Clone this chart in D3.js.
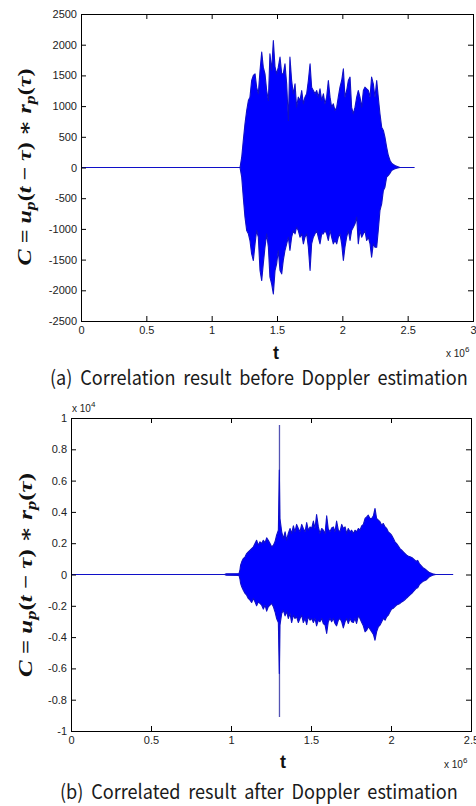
<!DOCTYPE html>
<html><head><meta charset="utf-8">
<script src="https://cdn.jsdelivr.net/npm/d3@7"></script>
<style>body{margin:0;background:#fff} svg{display:block}</style>
</head><body><svg id="c" width="476" height="806"></svg>
<script>
// ---------------- data ----------------
const xTicksA = [0, 0.5, 1, 1.5, 2, 2.5, 3];
const yTicksA = [-2500, -2000, -1500, -1000, -500, 0, 500, 1000, 1500, 2000, 2500];
const xTicksB = [0, 0.5, 1, 1.5, 2, 2.5];
const yTicksB = [-1, -0.8, -0.6, -0.4, -0.2, 0, 0.2, 0.4, 0.6, 0.8, 1];
const xExponentA = "6", xExponentB = "6", yExponentB = "4";
const xLabel = "t";
const captions = ["(a) Correlation result before Doppler estimation",
                  "(b) Correlated result after Doppler estimation"];

// signal envelopes: [t (x10^6), max, min]
const signalA = [
[0,0,0],[1.217,0,0],[1.230,168,-158],[1.242,440,-483],[1.255,711,-809],[1.268,928,-1026],
[1.281,1091,-1081],[1.293,1146,-1189],[1.306,1417,-1406],[1.319,1499,-1515],[1.332,1526,-1243],
[1.344,1309,-1026],[1.357,1200,-1135],[1.370,1580,-1678],[1.383,1879,-1841],[1.395,1634,-1569],
[1.408,1526,-1298],[1.421,1254,-1081],[1.434,1091,-1298],[1.446,1852,-1787],[1.459,1580,-1895],
[1.472,2069,-2058],[1.485,1634,-1678],[1.497,1526,-1569],[1.510,1634,-1352],[1.523,1797,-1678],
[1.536,1526,-1732],[1.548,1526,-1515],[1.561,1689,-1352],[1.574,1363,-1243],[1.587,766,-1135],
[1.599,1797,-1352],[1.612,1417,-1135],[1.625,1200,-1026],[1.638,1363,-1081],[1.650,983,-972],
[1.663,1146,-1026],[1.676,1091,-1135],[1.689,1254,-1081],[1.702,1037,-1243],[1.714,1146,-1135],
[1.727,1200,-1081],[1.740,1417,-1298],[1.753,1689,-1678],[1.765,1309,-1243],[1.778,1254,-1135],
[1.791,1200,-1081],[1.804,1254,-1026],[1.816,1146,-1135],[1.829,1282,-1243],[1.842,1091,-1081],
[1.855,1200,-1081],[1.867,1037,-1026],[1.880,1146,-1081],[1.893,1417,-1189],[1.906,1146,-1026],
[1.918,983,-1135],[1.931,1037,-1243],[1.944,928,-1189],[1.957,983,-1243],[1.969,1146,-1135],
[1.982,1309,-1081],[1.995,1417,-1243],[2.008,1607,-1515],[2.020,1146,-1298],[2.033,1254,-1135],
[2.046,1417,-1026],[2.059,1472,-1189],[2.071,983,-1026],[2.084,874,-972],[2.097,983,-917],
[2.110,1146,-809],[2.122,1254,-1243],[2.135,1146,-1026],[2.148,983,-1135],[2.161,1254,-1081],
[2.173,1309,-1026],[2.186,1282,-1189],[2.199,1254,-1135],[2.212,1146,-1243],[2.224,1472,-1461],
[2.237,1363,-1243],[2.250,1146,-1298],[2.263,1417,-1298],[2.275,1146,-1026],[2.288,874,-700],
[2.301,657,-592],[2.314,603,-375],[2.326,494,-320],[2.339,331,-158],[2.352,195,-130],
[2.365,114,-92],[2.377,71,-49],[2.390,49,-33],[2.403,33,-22],[2.416,22,-11],[2.441,0,0],[2.550,0,0]
];

const signalB = [
[0,0,0],[0.960,0,0],[0.970,0.004,-0.004],[1.050,0.006,-0.006],[1.056,0.03,-0.03],
[1.060,0.060,-0.057],[1.067,0.081,-0.079],[1.077,0.102,-0.100],[1.088,0.113,-0.121],
[1.098,0.134,-0.132],[1.108,0.145,-0.153],[1.119,0.155,-0.164],[1.129,0.166,-0.179],
[1.140,0.177,-0.153],[1.150,0.198,-0.175],[1.160,0.219,-0.200],[1.171,0.187,-0.175],
[1.181,0.209,-0.185],[1.192,0.198,-0.196],[1.202,0.219,-0.221],[1.213,0.204,-0.196],
[1.223,0.234,-0.234],[1.233,0.219,-0.206],[1.244,0.198,-0.196],[1.254,0.177,-0.185],
[1.265,0.187,-0.206],[1.275,0.209,-0.238],[1.285,0.251,-0.281],[1.296,0.283,-0.307],
[1.302,0.667,-0.633],[1.306,0.358,-0.324],[1.317,0.273,-0.249],[1.327,0.230,-0.228],
[1.338,0.273,-0.264],[1.348,0.219,-0.238],[1.358,0.262,-0.281],[1.369,0.294,-0.249],
[1.379,0.262,-0.307],[1.390,0.311,-0.260],[1.400,0.273,-0.281],[1.410,0.320,-0.270],
[1.421,0.294,-0.307],[1.431,0.273,-0.281],[1.442,0.320,-0.260],[1.452,0.294,-0.307],
[1.463,0.273,-0.281],[1.473,0.332,-0.320],[1.483,0.283,-0.270],[1.494,0.304,-0.292],
[1.504,0.294,-0.281],[1.515,0.341,-0.307],[1.525,0.294,-0.281],[1.535,0.383,-0.328],
[1.546,0.304,-0.292],[1.556,0.262,-0.302],[1.567,0.294,-0.281],[1.577,0.283,-0.313],
[1.588,0.262,-0.324],[1.598,0.375,-0.377],[1.608,0.290,-0.302],[1.619,0.273,-0.281],
[1.629,0.298,-0.302],[1.640,0.304,-0.281],[1.650,0.273,-0.313],[1.660,0.341,-0.328],
[1.671,0.283,-0.292],[1.681,0.273,-0.281],[1.692,0.320,-0.302],[1.702,0.294,-0.341],
[1.713,0.304,-0.302],[1.723,0.262,-0.281],[1.733,0.294,-0.313],[1.744,0.273,-0.281],
[1.754,0.283,-0.302],[1.765,0.262,-0.307],[1.775,0.283,-0.281],[1.785,0.273,-0.313],
[1.796,0.294,-0.264],[1.806,0.283,-0.281],[1.817,0.311,-0.307],[1.827,0.320,-0.328],
[1.838,0.358,-0.366],[1.848,0.368,-0.356],[1.858,0.379,-0.334],[1.869,0.358,-0.349],
[1.879,0.358,-0.366],[1.890,0.375,-0.383],[1.900,0.422,-0.420],[1.910,0.358,-0.366],
[1.921,0.347,-0.334],[1.931,0.337,-0.324],[1.942,0.315,-0.302],[1.952,0.326,-0.281],
[1.963,0.304,-0.292],[1.973,0.294,-0.270],[1.983,0.273,-0.260],[1.994,0.262,-0.238],
[2.004,0.251,-0.221],[2.015,0.230,-0.215],[2.025,0.209,-0.205],[2.035,0.198,-0.195],
[2.046,0.181,-0.190],[2.056,0.166,-0.185],[2.067,0.155,-0.175],[2.077,0.145,-0.170],
[2.088,0.134,-0.160],[2.098,0.124,-0.150],[2.109,0.117,-0.140],[2.119,0.113,-0.130],
[2.135,0.105,-0.115],[2.156,0.085,-0.090],[2.167,0.090,-0.085],[2.177,0.070,-0.065],
[2.198,0.045,-0.045],[2.219,0.030,-0.035],[2.240,0.012,-0.015],[2.260,0.004,-0.005],
[2.280,0,0],[2.386,0,0]
];
// isolated spikes: [t, min, max]
const spikesB = [[1.303, -0.91, 0.955]];

// ---------------- drawing ----------------
const svg = d3.select("#c");

function panel(o) {
  const x = d3.scaleLinear().domain(o.xDomain).range([o.left, o.right]);
  const y = d3.scaleLinear().domain(o.yDomain).range([o.bottom, o.top]);
  const g = svg.append("g");
  const clipId = "clip" + o.id;
  svg.append("clipPath").attr("id", clipId).append("rect")
    .attr("x", o.left).attr("y", o.top).attr("width", o.right - o.left).attr("height", o.bottom - o.top);

  const plot = g.append("g").attr("clip-path", `url(#${clipId})`);
  plot.selectAll("line.spk").data(o.spikes || []).enter().append("line")
    .attr("x1", d => x(d[0])).attr("x2", d => x(d[0]))
    .attr("y1", d => y(d[1])).attr("y2", d => y(d[2]))
    .attr("stroke", "#5454b4").attr("stroke-width", 1.3);
  const area = d3.area().x(d => x(d[0])).y0(d => y(d[2])).y1(d => y(d[1]));
  plot.append("path").datum(o.signal).attr("d", area)
    .attr("fill", "#0000ff").attr("stroke", "#1010c8").attr("stroke-width", 1.1)
    .attr("stroke-linejoin", "round");

  function style(sel, labels) {
    sel.select(".domain").remove();
    sel.selectAll(".tick line").attr("stroke", "#000");
    sel.selectAll("text").attr("font-family", "Liberation Sans, Arial, sans-serif")
      .attr("font-size", 11).attr("fill", "#222");
    if (!labels) sel.selectAll("text").remove();
  }
  const fmt = d => String(d);
  g.append("g").attr("transform", `translate(0,${o.bottom})`)
    .call(d3.axisBottom(x).tickValues(o.xTicks).tickFormat(fmt).tickSizeInner(-5).tickSizeOuter(0).tickPadding(5))
    .call(s => style(s, true));
  g.append("g").attr("transform", `translate(0,${o.top})`)
    .call(d3.axisTop(x).tickValues(o.xTicks).tickSizeInner(-5).tickSizeOuter(0))
    .call(s => style(s, false));
  g.append("g").attr("transform", `translate(${o.left},0)`)
    .call(d3.axisLeft(y).tickValues(o.yTicks).tickFormat(fmt).tickSizeInner(-5).tickSizeOuter(0).tickPadding(4))
    .call(s => style(s, true));
  g.append("g").attr("transform", `translate(${o.right},0)`)
    .call(d3.axisRight(y).tickValues(o.yTicks).tickSizeInner(-5).tickSizeOuter(0))
    .call(s => style(s, false));

  g.append("rect").attr("x", o.left + 0.5).attr("y", o.top + 0.5)
    .attr("width", o.right - o.left).attr("height", o.bottom - o.top)
    .attr("fill", "none").attr("stroke", "#000").attr("stroke-width", 1);

  // x axis label
  g.append("text").attr("x", (o.left + o.right) / 2 + o.tShift).attr("y", o.tY)
    .attr("text-anchor", "middle").attr("font-family", "Liberation Sans, Arial, sans-serif")
    .attr("font-weight", "bold").attr("font-size", 18).attr("fill", "#111").text(xLabel);
  // x exponent
  const ex = g.append("text").attr("x", o.exX).attr("y", o.exY)
    .attr("font-family", "Liberation Sans, Arial, sans-serif").attr("font-size", 10).attr("fill", "#222");
  ex.append("tspan").text("x 10");
  ex.append("tspan").attr("dy", -5).attr("font-size", 8).text(o.xExp);
  if (o.yExp) {
    const ey = g.append("text").attr("x", o.left + 1).attr("y", o.top - 6)
      .attr("font-family", "Liberation Sans, Arial, sans-serif").attr("font-size", 10).attr("fill", "#222");
    ey.append("tspan").text("x 10");
    ey.append("tspan").attr("dy", -5).attr("font-size", 8).text(o.yExp);
  }

  // y axis label (math)
  const yl = g.append("text").attr("text-anchor", "middle")
    .attr("font-family", "Liberation Serif, DejaVu Serif, serif").attr("font-weight", "bold")
    .attr("font-size", 19).attr("fill", "#111");
  const parts = [["C", 1, 0], [" = ", 0, 0], ["u", 1, 0], ["p", 1, 1], ["(", 0, -1], ["t", 1, 0],
                 [" − ", 0, 0], ["τ", 1, 0], [") ∗ ", 0, 0], ["r", 1, 0], ["p", 1, 1], ["(", 0, -1],
                 ["τ", 1, 0], [")", 0, 0]];
  parts.forEach(p => {
    const t = yl.append("tspan").text(p[0]).attr("font-style", p[1] ? "italic" : "normal");
    if (p[2] === 1) t.attr("dy", 4).attr("font-size", 14);
    if (p[2] === -1) t.attr("dy", -4);
  });
  const w = yl.node().getComputedTextLength();
  yl.attr("transform", `translate(${o.ylX},${o.ylY}) rotate(-90) scale(${o.ylLen / w},1)`);

  // caption (scaled to the width it has in the reference)
  const cap = svg.append("text").attr("x", 0).attr("y", 0)
    .attr("font-family", "Noto Sans CJK KR, Noto Sans, sans-serif").attr("font-size", 20)
    .attr("fill", "#1a1a1a").attr("word-spacing", 4).text(o.caption);
  const cw = cap.node().getComputedTextLength();
  cap.attr("transform", `translate(${o.capX},${o.capY}) scale(${o.capLen / cw},1)`);
}

panel({
  id: "A", left: 81, right: 473, top: 14, bottom: 321,
  xDomain: [0, 3], yDomain: [-2500, 2500], xTicks: xTicksA, yTicks: yTicksA,
  signal: signalA, spikes: [],
  tShift: -1, tY: 359, exX: 446, exY: 357, xExp: xExponentA,
  ylX: 31, ylY: 167, ylLen: 197,
  capX: 50, capY: 385, capLen: 418, caption: captions[0]
});
panel({
  id: "B", left: 71, right: 471, top: 418, bottom: 731,
  xDomain: [0, 2.5], yDomain: [-1, 1], xTicks: xTicksB, yTicks: yTicksB,
  signal: signalB, spikes: spikesB,
  tShift: 12, tY: 768, exX: 444, exY: 768, xExp: xExponentB, yExp: yExponentB,
  ylX: 32, ylY: 575, ylLen: 204,
  capX: 60, capY: 799, capLen: 398, caption: captions[1]
});
</script></body></html>
